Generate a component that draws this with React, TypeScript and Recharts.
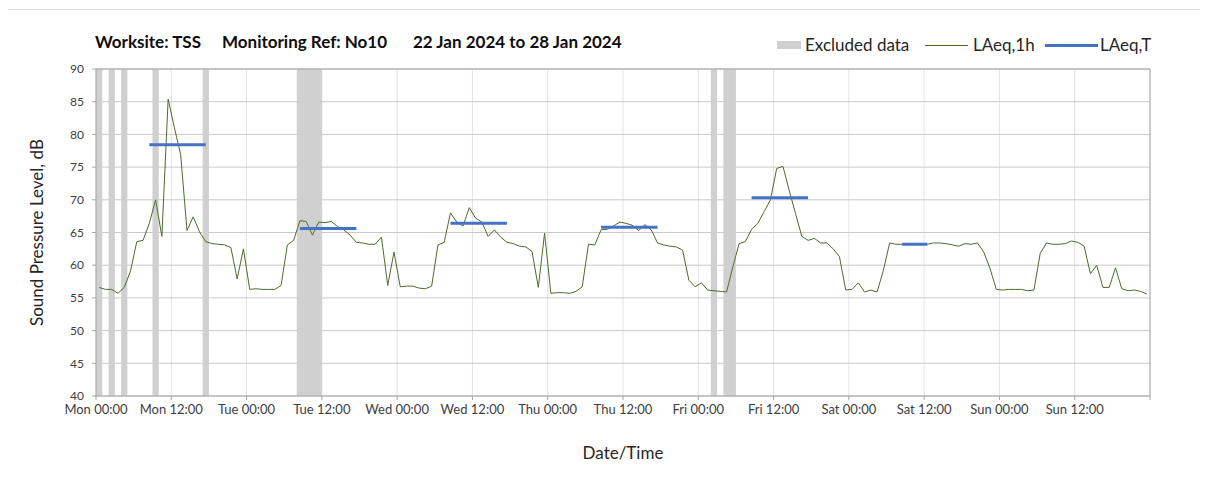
import React from 'react';
import { LineChart, Line, XAxis, YAxis, CartesianGrid, ReferenceArea, ReferenceLine, Legend, Label } from 'recharts';

// hourly LAeq,1h readings, one array per day (Mon 22 Jan .. Sun 28 Jan 2024)
const monLevels = [56.6, 56.3, 56.3, 55.7, 56.6, 59.1, 63.6, 63.8, 66.4, 70.0, 64.4, 85.4, 81.0, 76.9, 65.3, 67.4, 65.1, 63.6, 63.3, 63.2, 63.1, 62.7, 57.9, 62.5];
const tueLevels = [56.3, 56.4, 56.3, 56.3, 56.3, 56.9, 63.1, 63.8, 66.8, 66.7, 64.6, 66.6, 66.5, 66.7, 65.9, 65.4, 64.6, 63.5, 63.4, 63.2, 63.2, 64.3, 56.9, 62.0];
const wedLevels = [56.7, 56.8, 56.8, 56.5, 56.4, 56.8, 63.1, 63.5, 68.0, 66.6, 66.0, 68.8, 67.2, 66.6, 64.4, 65.4, 64.3, 63.5, 63.3, 62.9, 62.8, 62.1, 56.6, 64.9];
const thuLevels = [55.7, 55.8, 55.8, 55.7, 56.0, 56.7, 63.2, 63.1, 65.4, 65.5, 66.0, 66.6, 66.4, 66.1, 65.3, 66.2, 65.4, 63.4, 63.1, 62.9, 62.8, 62.3, 57.7, 56.7];
const friLevels = [57.3, 56.2, 56.1, 56.0, 55.9, 59.7, 63.3, 63.6, 65.5, 66.4, 68.2, 70.0, 74.8, 75.1, 71.4, 67.9, 64.4, 63.8, 64.1, 63.4, 63.4, 62.5, 61.3, 56.2];
const satLevels = [56.3, 57.3, 55.9, 56.2, 55.9, 59.2, 63.4, 63.2, 63.2, 63.2, 63.2, 63.2, 63.2, 63.4, 63.4, 63.3, 63.1, 62.9, 63.3, 63.2, 63.4, 62.0, 59.5, 56.3];
const sunLevels = [56.2, 56.3, 56.3, 56.3, 56.1, 56.2, 61.8, 63.4, 63.2, 63.2, 63.3, 63.7, 63.5, 62.9, 58.7, 60.0, 56.6, 56.6, 59.6, 56.4, 56.1, 56.2, 56.0, 55.6];

// excluded hours (hours since Mon 00:00)
const excludedStart = [0, 2, 4, 9, 17, 32, 98, 100];
const excludedEnd = [1, 3, 5, 10, 18, 36, 99, 102];

// LAeq,T assessment periods
const periodStart = [8, 32, 56, 80, 104, 128];
const periodEnd = [18, 42, 66, 90, 114, 133];
const periodLevels = [78.4, 65.6, 66.4, 65.8, 70.3, 63.2];

const xTickHours = [0, 12, 24, 36, 48, 60, 72, 84, 96, 108, 120, 132, 144, 156, 168];
const xTickLabels = ['Mon 00:00', 'Mon 12:00', 'Tue 00:00', 'Tue 12:00', 'Wed 00:00', 'Wed 12:00', 'Thu 00:00', 'Thu 12:00', 'Fri 00:00', 'Fri 12:00', 'Sat 00:00', 'Sat 12:00', 'Sun 00:00', 'Sun 12:00', ''];
const yTicks = [40, 45, 50, 55, 60, 65, 70, 75, 80, 85, 90];

const FONT = 'Lato, "Open Sans", sans-serif';
const LINE_GREEN = '#4f6a2c';
const LINE_BLUE = '#4472c4';
const EXCLUDED = '#d0d0d0';

const periodLevelAt = (h: number) => {
    for (let k = 0; k < periodStart.length; k++) {
        if (h >= periodStart[k] && h < periodEnd[k]) return periodLevels[k];
    }
    return null;
};

const data = [monLevels, tueLevels, wedLevels, thuLevels, friLevels, satLevels, sunLevels]
    .flat()
    .map((v, h) => ({ t: h + 0.5, laeq1h: v, laeqT: periodLevelAt(h) }));

const LegendContent = () => (
    <div style={{ position: 'relative', height: 0, fontFamily: FONT, fontSize: 17, color: '#262626' }}>
        <div style={{ position: 'absolute', left: 769, top: 33, width: 24, height: 8, background: EXCLUDED }} />
        <span style={{ position: 'absolute', left: 797, top: 26, whiteSpace: 'nowrap' }}>Excluded data</span>
        <div style={{ position: 'absolute', left: 917, top: 37, width: 43, height: 1, background: LINE_GREEN }} />
        <span style={{ position: 'absolute', left: 965, top: 26, whiteSpace: 'nowrap' }}>LAeq,1h</span>
        <div style={{ position: 'absolute', left: 1037, top: 36, width: 53, height: 3, background: LINE_BLUE }} />
        <span style={{ position: 'absolute', left: 1092, top: 26, whiteSpace: 'nowrap' }}>LAeq,T</span>
    </div>
);

const titleStyle: React.CSSProperties = {
    position: 'absolute', top: 23, fontFamily: FONT, fontSize: 17, fontWeight: 700, color: '#0d0d0d', whiteSpace: 'nowrap',
};

export default function App() {
    return (
        <div style={{ position: 'relative', width: 1192, height: 468, fontFamily: FONT }}>
            <div style={{ position: 'absolute', left: -2, top: 1, width: 1200, height: 474, borderLeft: '1px solid #d9d9d9', borderTop: '1px solid #d9d9d9' }} />
            <span style={{ ...titleStyle, left: 87 }}>Worksite: TSS</span>
            <span style={{ ...titleStyle, left: 214 }}>Monitoring Ref: No10</span>
            <span style={{ ...titleStyle, left: 405 }}>22 Jan 2024 to 28 Jan 2024</span>
            <LineChart width={1192} height={468} data={data} margin={{ top: 61, right: 50, bottom: 50, left: 12 }}>
                {excludedStart.map((s, i) => (
                    <ReferenceArea key={`ex-${i}`} x1={s} x2={excludedEnd[i]} y1={40} y2={90} fill={EXCLUDED} fillOpacity={1} stroke="none" />
                ))}
                <CartesianGrid horizontal={false} stroke="#e3e3e3" />
                <CartesianGrid vertical={false} stroke="#c9c9c9" />
                <XAxis
                    dataKey="t"
                    type="number"
                    domain={[0, 168]}
                    ticks={xTickHours}
                    interval={0}
                    tickFormatter={(v: number) => xTickLabels[xTickHours.indexOf(v)]}
                    height={30}
                    tickSize={4}
                    tickMargin={5}
                    stroke="#a6a6a6"
                    tick={{ fill: '#404040', fontSize: 13, fontFamily: FONT }}
                >
                    <Label value="Date/Time" position="bottom" offset={21} style={{ fill: '#262626', fontSize: 17, fontFamily: FONT }} />
                </XAxis>
                <YAxis
                    type="number"
                    domain={[40, 90]}
                    ticks={yTicks}
                    interval={0}
                    width={76}
                    tickSize={4}
                    tickMargin={8}
                    stroke="#a6a6a6"
                    tick={{ fill: '#404040', fontSize: 12, fontFamily: FONT }}
                >
                    <Label value="Sound Pressure Level, dB" angle={-90} position="insideLeft" offset={17} style={{ textAnchor: 'middle', fill: '#262626', fontSize: 17, fontFamily: FONT }} />
                </YAxis>
                <ReferenceLine y={90} stroke="#a6a6a6" />
                <ReferenceLine x={168} stroke="#a6a6a6" />
                <Line type="linear" dataKey="laeq1h" stroke={LINE_GREEN} strokeWidth={1} dot={false} isAnimationActive={false} />
                <Line type="linear" dataKey="laeqT" stroke={LINE_BLUE} strokeWidth={3} dot={false} strokeLinecap="butt" isAnimationActive={false} />
                <Legend verticalAlign="top" content={<LegendContent />} wrapperStyle={{ top: 0, left: 0, width: 1192, height: 0 }} />
            </LineChart>
        </div>
    );
}
